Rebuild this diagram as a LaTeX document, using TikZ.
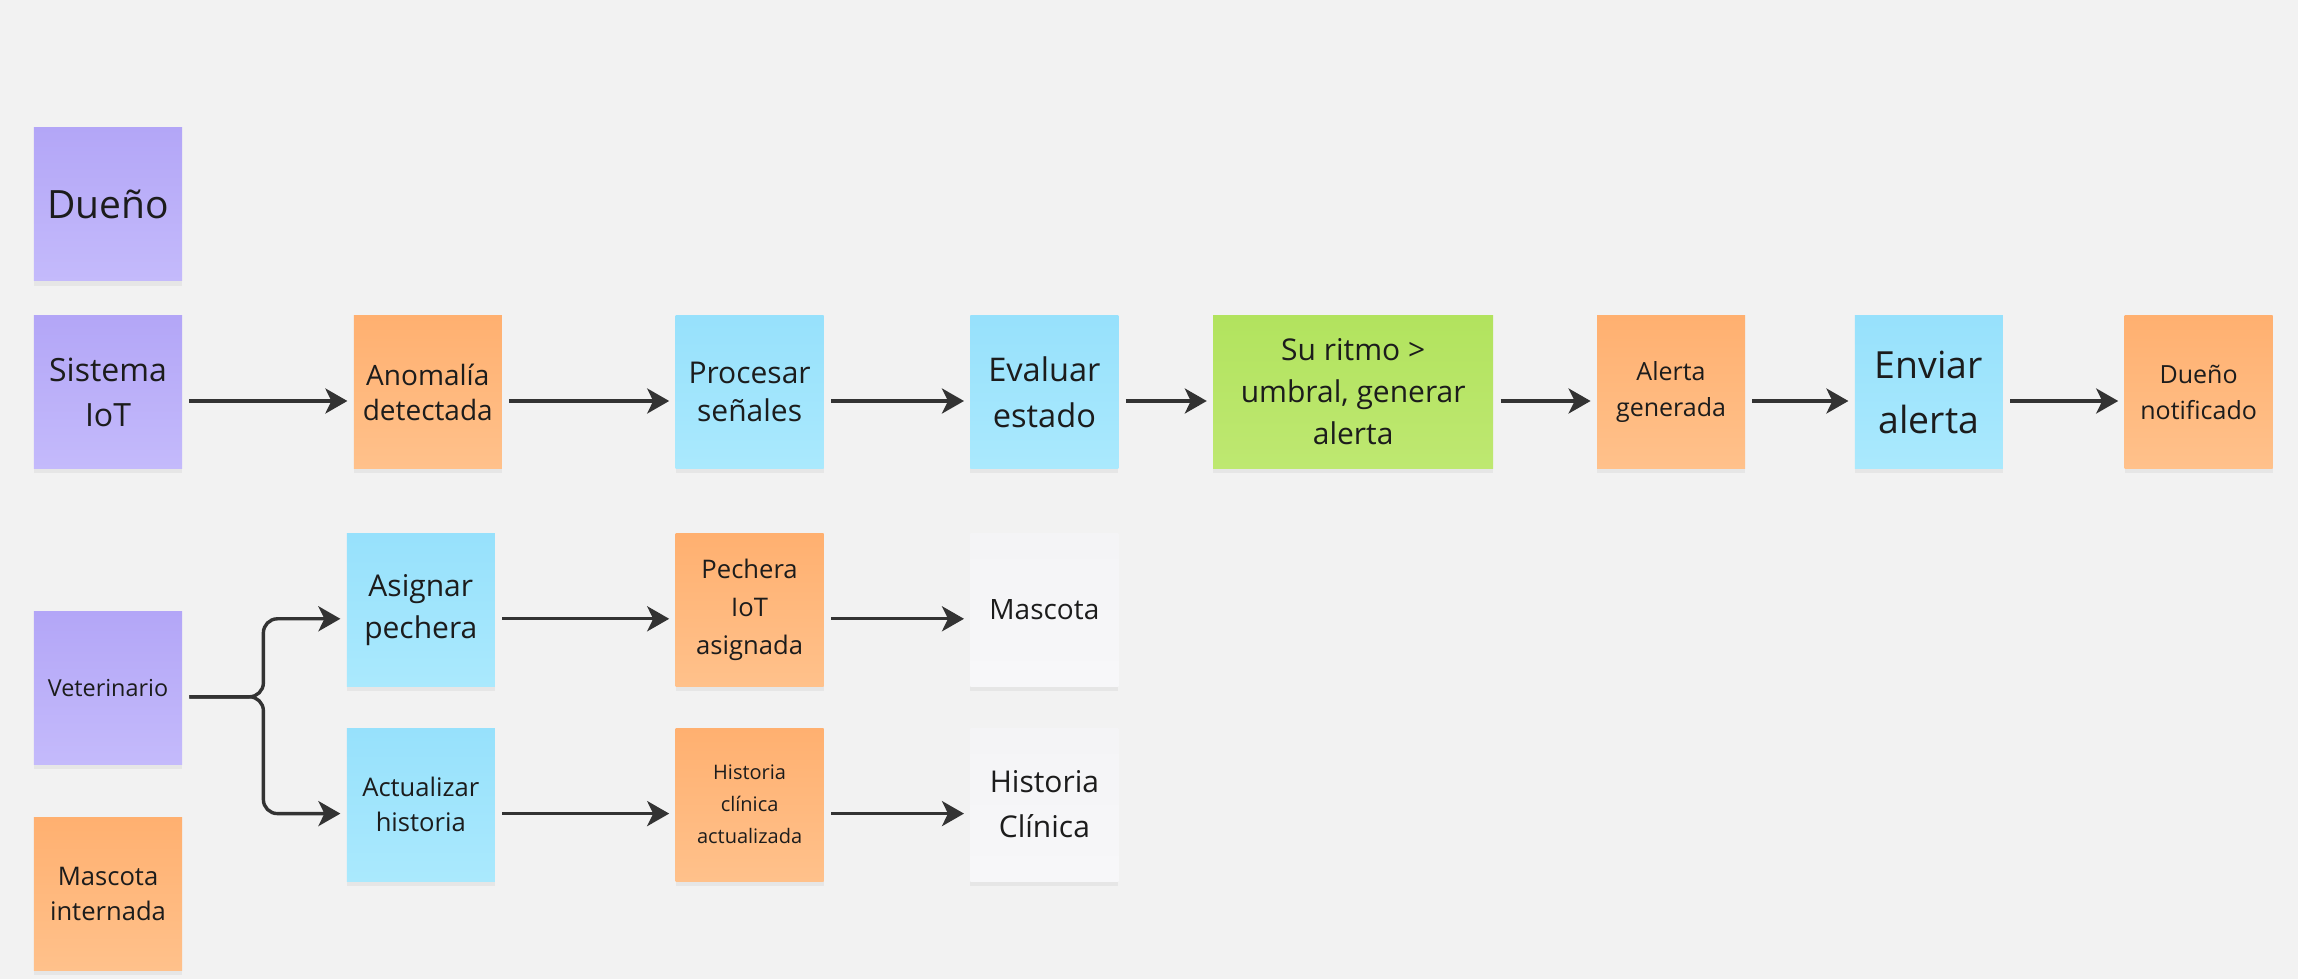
\documentclass[tikz,border=0pt]{standalone}
\usepackage{fontspec}
\setmainfont{Open Sans}
\usetikzlibrary{positioning}
\usetikzlibrary{shadows, arrows.meta, positioning}

\definecolor{bg}{HTML}{F2F2F2}
\definecolor{ink}{HTML}{1C1C1C}
\definecolor{wire}{HTML}{333333}
\definecolor{violetA}{HTML}{B3A6F7}
\definecolor{violetB}{HTML}{C4BAFB}
\definecolor{orangeA}{HTML}{FFB070}
\definecolor{orangeB}{HTML}{FFC18B}
\definecolor{blueA}{HTML}{97E1FC}
\definecolor{blueB}{HTML}{AAE9FD}
\definecolor{greenA}{HTML}{B2E35E}
\definecolor{greenB}{HTML}{BEE871}
\definecolor{paperA}{HTML}{F4F4F6}
\definecolor{paperB}{HTML}{F7F7F9}

\tikzstyle{arrow} = [line width=1.7pt, draw=wire, -{Stealth[length=11pt,width=12.5pt,inset=3pt]}, shorten <=3.5pt, shorten >=3pt, transform canvas={yshift=-4.5pt}]
\tikzstyle{note} = [minimum width=74pt, minimum height=76.5pt, inner sep=0pt, align=center, text=ink, drop shadow={shadow xshift=0pt, shadow yshift=-2.5pt, opacity=0.10}]
\tikzstyle{actorbox} = [note, top color=violetA, bottom color=violetB]
\tikzstyle{eventbox} = [note, top color=orangeA, bottom color=orangeB]
\tikzstyle{actionbox} = [note, top color=blueA, bottom color=blueB]
\tikzstyle{policybox} = [note, top color=greenA, bottom color=greenB]
\tikzstyle{paperbox} = [note, top color=paperA, bottom color=paperB]

\begin{document}
\begin{tikzpicture}
    % Background
    \fill[bg] (-54pt,-293.5pt) rectangle (1095pt,196pt);

    % Nodes
    \node[actorbox, font=\fontsize{16}{22.5}\selectfont] (sistema) at (0,0) {Sistema\\IoT};
    \node[actorbox, above=17pt of sistema, font=\fontsize{19.5}{24}\selectfont] (dueno) {Dueño};
    \node[eventbox, right=85.5pt of sistema, font=\fontsize{14}{17.5}\selectfont] (anomalia) {Anomalía\\detectada};
    \node[actionbox, right=86.5pt of anomalia, font=\fontsize{15}{19}\selectfont] (procesar) {Procesar\\señales};
    \node[actionbox, right=73pt of procesar, font=\fontsize{16.3}{23}\selectfont] (evaluar) {Evaluar\\estado};
    \node[policybox, right=47pt of evaluar, minimum width=140pt, font=\fontsize{15}{21}\selectfont] (ritmo) {Su ritmo >\\umbral, generar\\alerta};
    \node[eventbox, right=51.5pt of ritmo, font=\fontsize{12.5}{18}\selectfont] (alerta) {Alerta\\generada};
    \node[actionbox, right=54.5pt of alerta, font=\fontsize{18.7}{27.5}\selectfont] (enviar) {Enviar\\alerta};
    \node[eventbox, right=60.5pt of enviar, font=\fontsize{12.5}{18}\selectfont] (notificado) {Dueño\\notificado};

    \node[actorbox, below=71pt of sistema, font=\fontsize{11.7}{15}\selectfont] (vet) {Veterinario};
    \node[eventbox, below=26pt of vet, font=\fontsize{12.8}{17.5}\selectfont] (internada) {Mascota\\internada};

    \node[eventbox, below=32pt of procesar, font=\fontsize{12.8}{19}\selectfont] (pechera) {Pechera\\IoT\\asignada};
    \node[eventbox, below=20.5pt of pechera, font=\fontsize{10}{16}\selectfont] (hcact) {Historia\\clínica\\actualizada};
    \node[paperbox, below=32pt of evaluar, font=\fontsize{14}{18}\selectfont] (mascota) {Mascota};
    \node[paperbox, below=20.5pt of mascota, font=\fontsize{15}{22.5}\selectfont] (historia) {Historia\\Clínica};
    \node[actionbox, left=90pt of pechera, font=\fontsize{15}{21}\selectfont] (asignar) {Asignar\\pechera};
    \node[actionbox, left=90pt of hcact, font=\fontsize{12.8}{17.5}\selectfont] (actualizar) {Actualizar\\historia};

    % Edges
    \draw[arrow] (sistema) -- (anomalia);
    \draw[arrow] (anomalia) -- (procesar);
    \draw[arrow] (procesar) -- (evaluar);
    \draw[arrow] (evaluar) -- (ritmo);
    \draw[arrow] (ritmo) -- (alerta);
    \draw[arrow] (alerta) -- (enviar);
    \draw[arrow] (enviar) -- (notificado);

    \draw[arrow, rounded corners=7pt] (vet.east) -- ([xshift=40.5pt]vet.east) |- (asignar.west);
    \draw[arrow, rounded corners=7pt] (vet.east) -- ([xshift=40.5pt]vet.east) |- (actualizar.west);
    \draw[arrow] (asignar) -- (pechera);
    \draw[arrow] (pechera) -- (mascota);
    \draw[arrow] (actualizar) -- (hcact);
    \draw[arrow] (hcact) -- (historia);
\end{tikzpicture}
\end{document}
